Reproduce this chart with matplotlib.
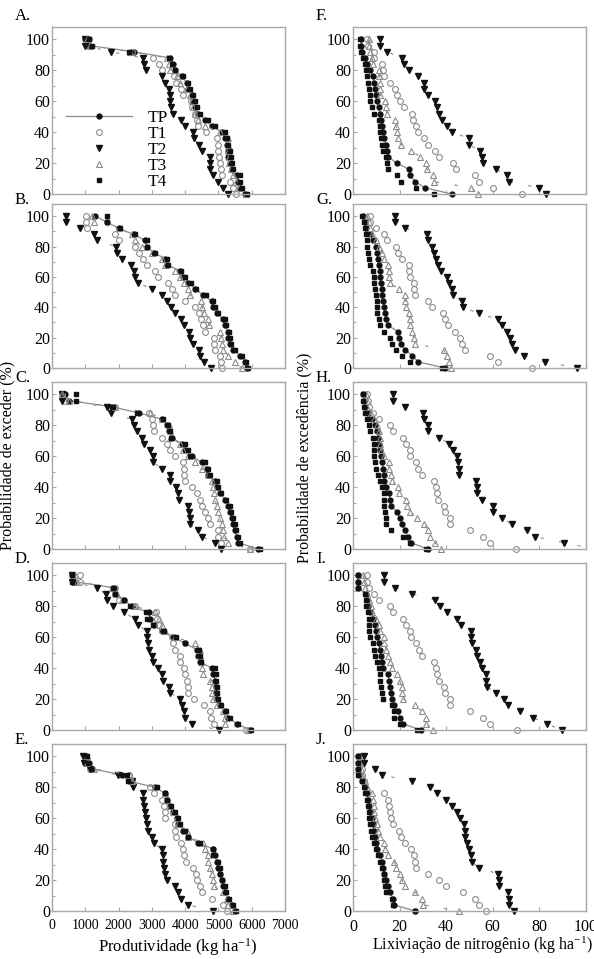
"""Exceedance probability curves: yield (A-E) and nitrogen leaching (F-J)."""

import matplotlib

matplotlib.use("Agg")
import matplotlib.pyplot as plt
from matplotlib.transforms import Bbox, TransformedBbox

plt.rcParams["font.family"] = "Liberation Serif"
plt.rcParams["mathtext.fontset"] = "custom"
plt.rcParams["mathtext.rm"] = "Liberation Serif"
plt.rcParams["mathtext.default"] = "regular"

# exceedance probability levels (%), shared by every series
PROB = [100, 96, 92, 88, 84, 80, 76, 72, 68, 64, 60, 56, 52,
        48, 44, 40, 36, 32, 28, 24, 20, 16, 12, 8, 4, 0]

SERIES = ["TP", "T1", "T2", "T3", "T4"]

# --- Produtividade (kg ha-1) ---
A_TP = [1000, 1100, 2450, 3550, 3650, 3700, 3900, 4050, 4100, 4200, 4250, 4300, 4400,
        4600, 4800, 5100, 5200, 5250, 5300, 5300, 5350, 5400, 5550, 5600, 5650, 5800]
A_T1 = [1100, 1150, 2400, 3040, 3220, 3290, 3660, 3740, 3890, 3940, 4190, 4220, 4290,
        4350, 4400, 4640, 4960, 4990, 4990, 5010, 5060, 5090, 5120, 5340, 5440, 5540]
A_T2 = [1000, 1000, 1770, 2720, 2760, 2810, 3290, 3400, 3520, 3560, 3560, 3590, 3640,
        3890, 3990, 4240, 4260, 4410, 4520, 4740, 4740, 4760, 4840, 4990, 5140, 5290]
A_T3 = [1050, 1150, 2350, 3450, 3500, 3550, 3750, 3850, 4050, 4150, 4200, 4250, 4300,
        4400, 4600, 5050, 5290, 5290, 5300, 5320, 5330, 5380, 5450, 5540, 5620, 5840]
A_T4 = [1100, 1200, 2300, 3500, 3600, 3700, 3950, 4100, 4150, 4250, 4300, 4350, 4450,
        4700, 4900, 5200, 5250, 5300, 5350, 5380, 5400, 5450, 5650, 5650, 5700, 5850]

B_TP = [1300, 1650, 2000, 2450, 2800, 2850, 3050, 3400, 3450, 3850, 3950, 4100, 4300,
        4550, 4800, 4850, 4950, 5150, 5200, 5280, 5300, 5350, 5450, 5650, 5800, 5850]
B_T1 = [1020, 1020, 1060, 1890, 2000, 2490, 2600, 2740, 2840, 3090, 3170, 3490, 3620,
        3690, 3990, 4290, 4420, 4490, 4550, 4590, 4860, 4870, 4890, 5060, 5090, 5100]
B_T2 = [420, 420, 840, 1260, 1360, 1920, 1960, 2090, 2360, 2460, 2490, 2590, 2990,
        3290, 3440, 3590, 3690, 3890, 3970, 4120, 4160, 4240, 4420, 4450, 4560, 4770]
B_T3 = [1200, 1250, 2000, 2400, 2500, 2700, 3000, 3300, 3400, 3700, 3850, 3970, 4100,
        4140, 4490, 4520, 4560, 4690, 4720, 5060, 5080, 5100, 5150, 5300, 5500, 5700]
B_T4 = [1640, 1660, 2040, 2490, 2840, 2860, 3090, 3440, 3490, 3890, 3990, 4170, 4340,
        4620, 4840, 4890, 4990, 5190, 5240, 5320, 5340, 5390, 5490, 5720, 5820, 5890]

C_TP = [400, 500, 1800, 2600, 3300, 3450, 3500, 3600, 3900, 4000, 4200, 4500, 4650,
        4700, 4900, 4950, 5050, 5200, 5300, 5350, 5400, 5450, 5500, 5550, 5600, 6200]
C_T1 = [300, 400, 1900, 2910, 2990, 3020, 3060, 3310, 3460, 3540, 3690, 3950, 3970,
        3980, 4010, 4220, 4360, 4440, 4520, 4590, 4690, 4740, 4990, 5000, 5090, 5940]
C_T2 = [290, 300, 1640, 1770, 2390, 2470, 2560, 2690, 2760, 2940, 3020, 3040, 3310,
        3540, 3560, 3740, 3790, 3820, 4090, 4120, 4140, 4150, 4390, 4510, 4890, 5090]
C_T3 = [300, 500, 1900, 2950, 3300, 3500, 3550, 3560, 3850, 3950, 4100, 4300, 4500,
        4700, 4800, 4850, 4860, 4900, 4950, 5000, 5050, 5100, 5150, 5160, 5300, 5950]
C_T4 = [720, 730, 1840, 2560, 3320, 3490, 3540, 3590, 3990, 4090, 4140, 4590, 4690,
        4740, 4960, 4990, 5090, 5240, 5340, 5390, 5440, 5490, 5540, 5590, 5640, 6240]

D_TP = [600, 650, 1850, 1900, 2150, 2400, 2900, 2950, 3050, 3300, 3650, 4000, 4350,
        4400, 4450, 4800, 4850, 4900, 4920, 4940, 4960, 5050, 5200, 5300, 5550, 5950]
D_T1 = [840, 850, 1880, 1890, 2020, 2490, 3120, 3140, 3220, 3290, 3620, 3630, 3690,
        3840, 3850, 3960, 3990, 4060, 4090, 4100, 4260, 4560, 4740, 4790, 4860, 5820]
D_T2 = [590, 600, 1340, 1620, 1640, 1840, 2160, 2490, 2590, 2840, 2860, 2890, 2920,
        2990, 3020, 3190, 3290, 3340, 3520, 3560, 3860, 3920, 3960, 3990, 4220, 5010]
D_T3 = [700, 750, 1800, 1950, 2100, 2500, 3100, 3200, 3300, 3400, 3700, 4300, 4450,
        4460, 4480, 4500, 4550, 4750, 4800, 4810, 4850, 4950, 5150, 5200, 5210, 5900]
D_T4 = [590, 600, 1840, 1890, 2170, 2340, 2820, 2840, 3040, 3370, 3740, 3990, 4420,
        4440, 4490, 4890, 4920, 4940, 4960, 4970, 4990, 5090, 5240, 5360, 5590, 5990]

E_TP = [1000, 1100, 1200, 2100, 2300, 3100, 3400, 3450, 3550, 3650, 3750, 3800, 3950,
        4100, 4400, 4850, 4900, 4950, 5000, 5050, 5100, 5150, 5200, 5300, 5400, 5500]
E_T1 = [1000, 1000, 1150, 2300, 2400, 2950, 3060, 3300, 3350, 3390, 3400, 3690, 3700,
        3740, 3890, 3940, 3960, 4020, 4240, 4340, 4360, 4440, 4520, 4810, 5140, 5260]
E_T2 = [940, 950, 1140, 1990, 2400, 2420, 2720, 2740, 2760, 2790, 2810, 2840, 2890,
        2990, 3050, 3290, 3340, 3340, 3350, 3390, 3440, 3690, 3790, 3890, 4090, 4840]
E_T3 = [1050, 1060, 1250, 2350, 2400, 3100, 3400, 3450, 3550, 3650, 3750, 3800, 4050,
        4100, 4550, 4600, 4700, 4700, 4750, 4800, 4850, 4860, 5150, 5250, 5300, 5450]
E_T4 = [1060, 1070, 1160, 2240, 2290, 3140, 3390, 3440, 3590, 3690, 3790, 3840, 3990,
        4090, 4440, 4840, 4850, 4990, 5040, 5060, 5120, 5190, 5240, 5320, 5440, 5520]

# --- Lixiviação de nitrogênio (kg ha-1) ---
F_TP = [3.5, 3.5, 4, 5, 6, 7.5, 8.5, 9, 9.5, 10, 10.5, 11, 11.5,
        12, 12.5, 13, 13.5, 14, 14.5, 15, 18.9, 23.9, 24.5, 26.7, 31, 42.4]
F_T1 = [6, 6.5, 9.1, 9.2, 12.4, 12.8, 13.4, 16, 18.1, 18.9, 20.3, 22.1, 25.3,
        25.6, 27.1, 28.1, 30.6, 32.4, 35, 36.7, 43.1, 44.3, 52.4, 54.1, 60.3, 72.4]
F_T2 = [11.7, 11.8, 14.6, 21, 22, 23.9, 28.1, 30.3, 30.6, 32, 35, 36, 36.7,
        38.1, 40.3, 42.7, 49.6, 49.7, 54.6, 55.3, 55.7, 61.4, 66.3, 67, 80, 82.7]
F_T3 = [6.7, 6.8, 7.4, 8.1, 8.6, 11, 11.3, 11.4, 11.7, 11.8, 13.9, 14.3, 14.4,
        18.1, 18.4, 18.9, 19.1, 20.6, 25, 28.9, 31.4, 31.7, 34.3, 34.6, 50.6, 53.6]
F_T4 = [3, 3, 3.5, 4.5, 5, 5.5, 6, 6.5, 7, 7.5, 7.5, 8, 9,
        11, 11.5, 11.8, 12, 12.5, 13, 14, 14.5, 15, 18.9, 20.7, 27, 34.6]

G_TP = [4.3, 5, 5.7, 7.4, 8.6, 10, 10.3, 10.6, 11, 11.4, 11.7, 12, 12.4,
        12.6, 12.9, 13.3, 13.6, 14.3, 15, 19.3, 19.6, 20.7, 22.4, 25.5, 28, 39.6]
G_T1 = [7.4, 7.5, 10, 13.4, 14.6, 18.4, 19.3, 21, 23.9, 24.1, 24.3, 26, 26.1,
        26.7, 32.1, 33.9, 38.6, 39.6, 40.7, 43.9, 46, 46.7, 48.1, 58.9, 62.4, 76.7]
G_T2 = [17.9, 18, 22.4, 31.7, 32, 33.9, 34.6, 35.7, 36.3, 37.7, 40.3, 41.3, 42.4,
        43.1, 46.7, 47.4, 53.9, 62.4, 63.9, 66, 67.4, 68.1, 69.6, 73.4, 82.4, 96.3]
G_T3 = [6, 6.7, 7.1, 8.1, 10, 11, 12.4, 13.4, 14.9, 15.3, 15.4, 16, 19.6,
        22.4, 22.5, 22.9, 23.9, 24.3, 24.6, 25.3, 26, 26.7, 38.9, 40.3, 41.4, 42]
G_T4 = [3.9, 4.6, 5.3, 5.7, 6, 6.1, 6.3, 6.7, 7.1, 8.6, 9.1, 9.2, 9.6,
        10, 10.1, 10.3, 10.4, 11, 11.4, 13.1, 15.7, 16.7, 18.6, 21, 24.6, 38.1]

H_TP = [4.3, 4.6, 5, 6.5, 8, 9.5, 10.3, 10.8, 11.2, 11.5, 12, 12.5, 13,
        13.3, 13.5, 14, 15.5, 16, 16.3, 18.9, 20, 21, 22.4, 23.5, 25, 32]
H_T1 = [6, 6.4, 6.7, 8.6, 11, 15.7, 17.1, 21.4, 22.9, 24.3, 24.6, 27.1, 28.1,
        29.6, 34.6, 35.7, 36, 36.4, 39.1, 39.3, 41.7, 41.8, 50.3, 55.7, 58.9, 70]
H_T2 = [17.1, 17.2, 22.4, 30, 30.6, 32.1, 32.4, 37.1, 41.4, 42.9, 44.6, 45, 45.3,
        45.7, 52.9, 53.1, 53.4, 55.3, 60, 60.3, 63.9, 68.4, 74.6, 78.1, 90.6, 104]
H_T3 = [5.5, 5.8, 6.2, 7.7, 8.9, 10.3, 11.3, 11.7, 11.8, 12.1, 13.1, 15.3, 15.4,
        16.3, 16.7, 19.3, 19.6, 22.9, 23.1, 24.3, 27.4, 30.6, 32.4, 33.1, 35.3, 37.7]
H_T4 = [4.3, 4.3, 4.6, 5.3, 6, 6.7, 7.4, 8.6, 8.9, 9.1, 9.2, 9.6, 10,
        10.6, 11.7, 12.4, 13.1, 13.4, 13.5, 13.9, 14, 14.3, 16.3, 21.4, 24.6, 31.4]

I_TP = [2, 2, 2.1, 5.5, 6, 6.5, 7.5, 8.5, 9.5, 10, 10.5, 11, 11.5,
        12, 12.5, 13, 15, 15.5, 16, 16.5, 16.7, 17.5, 19.5, 20, 21.5, 29]
I_T1 = [6, 6.1, 6.7, 8.9, 11, 15.7, 17.1, 21.4, 22.9, 24.3, 24.9, 27.1, 28.4,
        29.6, 34.6, 35.7, 36, 36.7, 39.1, 39.3, 41.7, 41.8, 50.3, 55.7, 58.9, 70.3]
I_T2 = [13.4, 13.5, 18.1, 25.3, 35.3, 37.4, 40.3, 44.6, 46.3, 50.7, 50.8, 50.9, 52.9,
        53.1, 54.6, 55.3, 57.1, 57.2, 57.4, 61.4, 64.9, 66.7, 71.7, 77.1, 83.4, 89.6]
I_T3 = [4.5, 4.6, 5, 6, 6.7, 7.7, 8.1, 10, 11, 11.4, 13.1, 13.4, 14.3,
        14.9, 16, 16.7, 18.9, 20, 21, 21.1, 21.4, 26.7, 29.6, 31.4, 31.5, 34.3]
I_T4 = [2, 2, 2.1, 5.3, 5.4, 5.7, 6.4, 6.7, 6.9, 7, 7.4, 8.6, 8.9,
        9.6, 10.3, 11, 11.4, 11.7, 12, 12.4, 12.9, 16.7, 17.4, 17.7, 20.3, 27.4]

J_TP = [2, 2, 2, 2.5, 4, 5, 6, 6.5, 7, 7.5, 8, 8.5, 9,
        9.5, 10, 10.5, 11.5, 12.5, 13, 13.5, 14, 15, 16, 17, 17.5, 26.7]
J_T1 = [3, 3, 3.9, 3.9, 4.6, 5.3, 13.1, 15, 15.6, 16, 16.4, 17, 19.6,
        20.6, 22.4, 25, 26, 26.4, 27.1, 32.1, 37.1, 40, 47.1, 52.4, 53.9, 57]
J_T2 = [4.6, 4.7, 9.6, 12.4, 25.3, 33.1, 36, 40, 42.4, 44.6, 46, 47.7, 47.9,
        48.1, 49.1, 49.6, 50.7, 51, 53.9, 62.4, 62.7, 62.8, 66.7, 66.8, 67.1, 68.9]
J_T3 = [2.5, 3, 3.5, 4, 5, 6, 8.1, 8.6, 8.9, 9.1, 9.6, 10.3, 10.7,
        11.7, 13.1, 13.9, 14.9, 17.7, 18.6, 20, 21, 22.4, 26.7, 29.6, 30, 45.7]
J_T4 = [2, 2, 2, 2, 3.9, 4.6, 5.3, 6, 6.4, 6.7, 6.8, 7.4, 7.7,
        8.1, 8.9, 10, 10.6, 11.7, 12.4, 13.1, 13.4, 13.9, 14.3, 16.7, 17.1, 26.7]

LEFT_PANELS = [
    ("A.", [A_TP, A_T1, A_T2, A_T3, A_T4]),
    ("B.", [B_TP, B_T1, B_T2, B_T3, B_T4]),
    ("C.", [C_TP, C_T1, C_T2, C_T3, C_T4]),
    ("D.", [D_TP, D_T1, D_T2, D_T3, D_T4]),
    ("E.", [E_TP, E_T1, E_T2, E_T3, E_T4]),
]
RIGHT_PANELS = [
    ("F.", [F_TP, F_T1, F_T2, F_T3, F_T4]),
    ("G.", [G_TP, G_T1, G_T2, G_T3, G_T4]),
    ("H.", [H_TP, H_T1, H_T2, H_T3, H_T4]),
    ("I.", [I_TP, I_T1, I_T2, I_T3, I_T4]),
    ("J.", [J_TP, J_T1, J_T2, J_T3, J_T4]),
]

LEFT_XTICKS = [0, 1000, 2000, 3000, 4000, 5000, 6000, 7000]
RIGHT_XTICKS = [0, 20, 40, 60, 80, 100]
YTICKS = [0, 20, 40, 60, 80, 100]

# layout in pixels of the 594 x 959 output
W, H = 594, 959
COL_LEFT = (52, 353)
COL_WIDTH = 233
ROW_TOP = (27, 204, 382, 563, 744)
ROW_BOTTOM = (194, 368, 549, 730, 911)

BLACK = "#111111"
GREY = "#8c8c8c"
SPINE = "#a8a8a8"

STYLE = {
    "TP": dict(marker="o", ms=3.5, mfc=BLACK, mec=BLACK, color=GREY, lw=0.9, ls="-"),
    "T1": dict(marker="o", ms=4.2, mfc="none", mec=GREY, mew=0.8, ls="none"),
    "T2": dict(marker="v", ms=4.2, mfc=BLACK, mec=BLACK, color=GREY, lw=0.8,
               ls=(0, (3, 14))),
    "T3": dict(marker="^", ms=4.2, mfc="none", mec=GREY, mew=0.8, color=GREY, lw=0.8,
               ls=(0, (3, 14))),
    "T4": dict(marker="s", ms=3.4, mfc=BLACK, mec=BLACK, ls="none"),
}


def style_axis(axis, xticks, xlim, xtick_size):
    axis.set_xlim(*xlim)
    axis.set_ylim(0, 108)
    axis.set_xticks(xticks)
    axis.set_yticks(YTICKS)
    axis.set_yticks([10, 30, 50, 70, 90], minor=True)
    axis.tick_params(axis="both", which="both", direction="in", color=SPINE, width=0.8)
    axis.tick_params(axis="both", which="major", length=3)
    axis.tick_params(axis="both", which="minor", length=2)
    axis.tick_params(axis="y", labelsize=11.5, pad=1.5)
    axis.tick_params(axis="x", labelsize=xtick_size, pad=6)
    for spine in axis.spines.values():
        spine.set_color(SPINE)
        spine.set_linewidth(1.0)


def add_panel(figure, column, row, label, series, xticks, xlim, xtick_size):
    left = COL_LEFT[column] / W
    bottom = 1 - ROW_BOTTOM[row] / H
    height = (ROW_BOTTOM[row] - ROW_TOP[row]) / H
    axis = figure.add_axes([left, bottom, COL_WIDTH / W, height])
    # markers sitting on the zero line stay whole; anything past the x range is cut
    clip = TransformedBbox(Bbox([[-0.03, -0.06], [1.0, 1.0]]), axis.transAxes)
    for name, values in zip(SERIES, series):
        (line,) = axis.plot(values, PROB, label=name, **STYLE[name])
        line.set_clip_box(clip)
    style_axis(axis, xticks, xlim, xtick_size)
    offset = 11 if row == 0 else 4
    figure.text((COL_LEFT[column] - 37) / W, 1 - (ROW_TOP[row] - offset) / H, label,
                fontsize=12, ha="left", va="center")
    return axis


def main():
    figure = plt.figure(figsize=(W / 100, H / 100), dpi=100)
    first = None
    for row, (label, series) in enumerate(LEFT_PANELS):
        axis = add_panel(figure, 0, row, label, series, LEFT_XTICKS, (0, 7000), 10)
        if row == 0:
            first = axis
        if row < 4:
            axis.set_xticklabels([])
    for row, (label, series) in enumerate(RIGHT_PANELS):
        axis = add_panel(figure, 1, row, label, series, RIGHT_XTICKS, (0, 100), 11.5)
        if row < 4:
            axis.set_xticklabels([])

    legend = first.legend(loc="upper left", bbox_to_anchor=(0.06, 0.505), frameon=False,
                          fontsize=12.5, handlelength=3.8, handletextpad=0.9,
                          labelspacing=0.0, borderpad=0, borderaxespad=0)
    # only TP carries a visible line in the key
    for handle in legend.get_lines()[1:]:
        handle.set_linestyle("none")

    figure.text(7 / W, 1 - 455 / H, "Probabilidade de exceder (%)", rotation=90,
                ha="center", va="center", fontsize=11.5)
    figure.text(304 / W, 1 - 458 / H, "Probabilidade de excedência (%)", rotation=90,
                ha="center", va="center", fontsize=11.5)
    figure.text(178 / W, 1 - 947 / H, "Produtividade (kg ha$^{-1}$)",
                ha="center", va="center", fontsize=12)
    figure.text(482 / W, 1 - 945 / H, "Lixiviação de nitrogênio (kg ha$^{-1}$)",
                ha="center", va="center", fontsize=11.5)

    figure.savefig("out.png", dpi=100)
    plt.close(figure)


if __name__ == "__main__":
    main()
